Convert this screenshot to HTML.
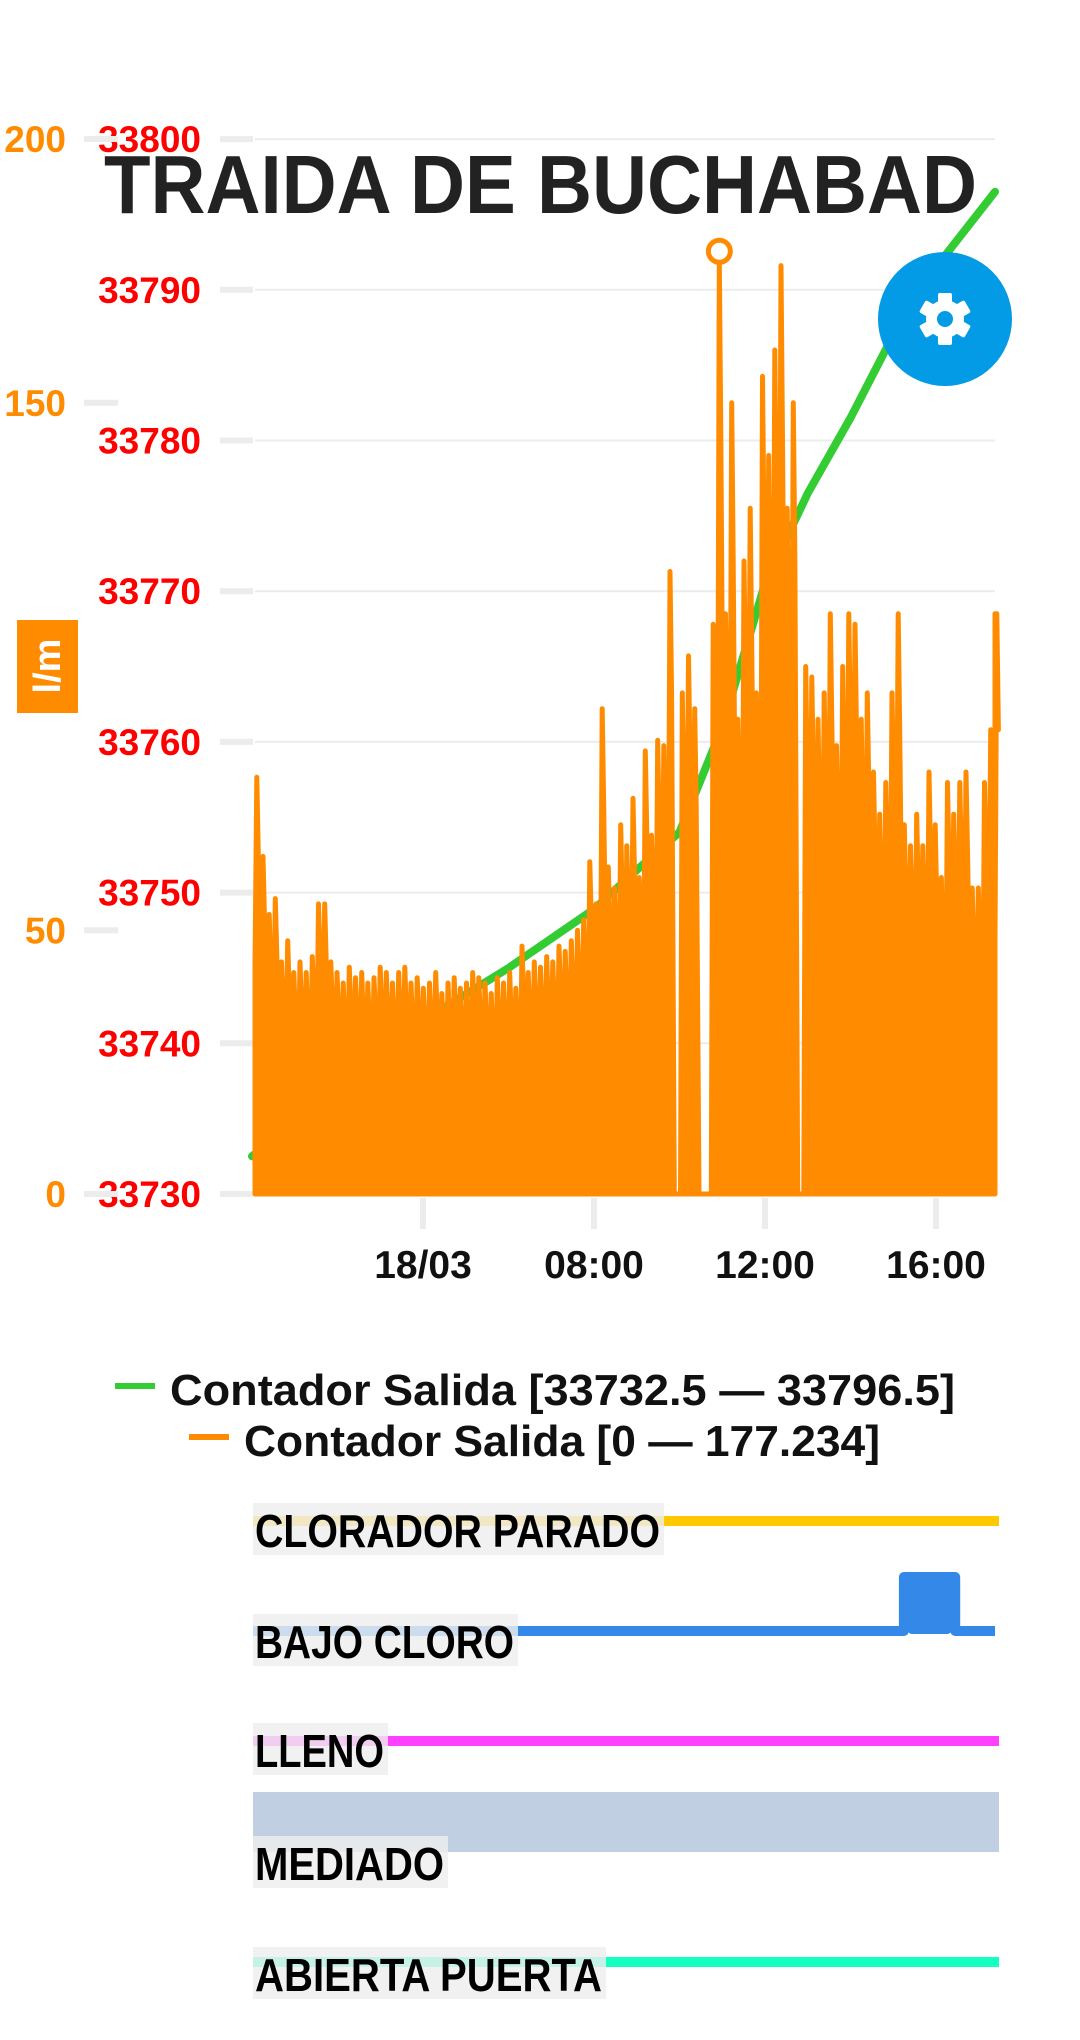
<!DOCTYPE html>
<html><head><meta charset="utf-8">
<style>
html,body{margin:0;padding:0;background:#fff;}
svg{display:block;font-family:"Liberation Sans",sans-serif;}
</style></head>
<body>
<svg id="chart" width="1080" height="2040" viewBox="0 0 1080 2040" xmlns="http://www.w3.org/2000/svg">
<g id="grid"></g>
<g id="axes"></g>
<g id="series"></g>
<text x="104" y="213" font-size="83" font-weight="bold" fill="#222" textLength="873" lengthAdjust="spacingAndGlyphs">TRAIDA DE BUCHABAD</text>
<g>
<circle cx="945" cy="319" r="67" fill="#039be5"/>
<g fill="#fff" transform="translate(945,319)">
<circle r="19"/>
<rect x="-7" y="-26" width="14" height="52" rx="2"/>
<rect x="-7" y="-26" width="14" height="52" rx="2" transform="rotate(60)"/>
<rect x="-7" y="-26" width="14" height="52" rx="2" transform="rotate(120)"/>
</g>
<circle cx="945" cy="319" r="8" fill="#039be5"/>
</g>
<g>
<rect x="17" y="620" width="61" height="93" fill="#ff8c00"/>
<text x="48" y="666" transform="rotate(-90 48 666)" text-anchor="middle" dominant-baseline="central" font-size="38" font-weight="bold" fill="#fff">l/m</text>
</g>
<g>
<g>
<rect x="115" y="1383" width="40" height="6" fill="#33cc33"/>
<text x="170" y="1405" font-size="44" font-weight="bold" fill="#111" textLength="785" lengthAdjust="spacingAndGlyphs">Contador Salida [33732.5 — 33796.5]</text>
</g>
<g>
<rect x="189" y="1434" width="40" height="6" fill="#ff8c00"/>
<text x="244" y="1456" font-size="44" font-weight="bold" fill="#111" textLength="636" lengthAdjust="spacingAndGlyphs">Contador Salida [0 — 177.234]</text>
</g>
</g>
<g id="status"></g>
</svg>
<script>
const NS="http://www.w3.org/2000/svg";
const xTickHours=[4,8,12,16];
const xTickLabels=["18/03","08:00","12:00","16:00"];
const redTicks=[33730,33740,33750,33760,33770,33780,33790,33800];
const orangeTicks=[0,50,150,200];
const greenHours=[0,2,4,6,8,9,10,11,12,13,14,15,16,17.38];
const greenValues=[33732.5,33737,33741.5,33745,33748.9,33751.5,33754,33761,33770.5,33776.5,33781.5,33787,33791.5,33796.5];
const orangeValues=[79,64,53,56,44,48,
42,44,42,45,55,55,44,42,40,43,41,42,40,41,43,42,40,42,43,40,
41,39,40,42,38,40,41,39,40,42,41,40,38,41,40,42,39,47,
42,44,43,45,44,47,46,48,50,52,
63,55,92,62,58,70,66,75,60,84,68,86,85,118,
0,95,102,92,0,0,108,177.2,110,150,90,120,130,95,155,140,160,176,130,150,0,100,98,90,95,110,85,100,110,108,90,95,80,72,78,95,110,70,66,72,66,80,70,60,78,72,78,80,58,58,78,88,110];
const orangeStartHour=0.07, orangeEndHour=17.38;
const bajoHours=[0,15.25,15.25,16.45,16.45,17.38];
const bajoStates=[0,0,1,1,0,0];

const X0=255,X1=995;
function xs(h){return 423+(h-4)*42.75;}
function yRed(c){return 1194-(c-33730)*15.07;}
function yOr(v){return 1194-v*5.275;}
function mk(tag,attrs,parent){const e=document.createElementNS(NS,tag);for(const k in attrs)e.setAttribute(k,attrs[k]);parent.appendChild(e);return e;}

const grid=document.getElementById('grid'),axes=document.getElementById('axes'),series=document.getElementById('series'),status=document.getElementById('status');
redTicks.forEach(t=>{
  const y=yRed(t);
  const g=mk('line',{x1:X0,x2:X1,y1:y,y2:y,stroke:'#ececec','stroke-width':2},grid);
  
  
  const d=mk('line',{x1:220,x2:253,y1:y,y2:y,stroke:'#ececec','stroke-width':6},axes);
  
  
  const tx=mk('text',{x:201,y:y+13,'text-anchor':'end','font-size':37,'font-weight':'bold',fill:'#ff0000'},axes);
  tx.textContent=t;
  
  
});
orangeTicks.forEach(t=>{
  const y=yOr(t);
  const d=mk('line',{x1:84,x2:118,y1:y,y2:y,stroke:'#ececec','stroke-width':6},axes);
  
  
  const tx=mk('text',{x:66,y:y+13,'text-anchor':'end','font-size':37,'font-weight':'bold',fill:'#ff8c00'},axes);
  tx.textContent=t;
  
  
});
xTickHours.forEach((h,i)=>{
  const x=xs(h);
  const d=mk('line',{x1:x,x2:x,y1:1198,y2:1229,stroke:'#ececec','stroke-width':6},axes);
  
  
  const tx=mk('text',{x:x,y:1278,'text-anchor':'middle','font-size':39,'font-weight':'bold',fill:'#111'},axes);
  tx.textContent=xTickLabels[i];
  
  
});
// green line (under orange)
const gp=greenHours.map((h,i)=>xs(h).toFixed(1)+','+yRed(greenValues[i]).toFixed(1)).join(' ');
const gl=mk('polyline',{points:gp,fill:'none',stroke:'#33cc33','stroke-width':8,'stroke-linejoin':'round','stroke-linecap':'round'},series);


// orange spikes
const n=orangeValues.length, step=(orangeEndHour-orangeStartHour)/(n-1);
let pts=[];let maxI=0;
orangeValues.forEach((v,i)=>{
  const h=orangeStartHour+i*step;
  const prev=i>0?orangeValues[i-1]:v;
  const trough=Math.min(v,prev)>0?Math.min(v,prev)*0.55:0;
  pts.push(xs(h).toFixed(1)+','+yOr(trough).toFixed(1));
  pts.push(xs(h+step*0.3).toFixed(1)+','+yOr(v).toFixed(1));
  pts.push(xs(h+step*0.55).toFixed(1)+','+yOr(v*0.8).toFixed(1));
  if(v>orangeValues[maxI])maxI=i;
});
pts.push(xs(orangeEndHour).toFixed(1)+','+yOr(orangeValues[n-1]).toFixed(1));
pts.push(xs(orangeEndHour).toFixed(1)+','+yOr(0).toFixed(1));
pts.push(xs(orangeStartHour).toFixed(1)+','+yOr(0).toFixed(1));
const ol=mk('polygon',{points:pts.join(' '),fill:'#ff8c00',stroke:'#ff8c00','stroke-width':5,'stroke-linejoin':'round'},series);


const mh=orangeStartHour+(maxI+0.3)*step;
const mc=mk('circle',{cx:xs(mh),cy:yOr(orangeValues[maxI])-8,r:11,fill:'#fff',stroke:'#ff8c00','stroke-width':5},series);



// status rows
const rows=[
 {name:'clorador-parado',label:'CLORADOR PARADO',color:'#ffc800',y:1521,box:[1503,411]},
 {name:'bajo-cloro',label:'BAJO CLORO',color:'#3388e8',y:1631,box:[1614,265]},
 {name:'lleno',label:'LLENO',color:'#ff40ff',y:1741,box:[1723,135]},
 {name:'mediado',label:'MEDIADO',color:'#c0cfe2',y:null,box:[1836,195]},
 {name:'abierta-puerta',label:'ABIERTA PUERTA',color:'#14ffc0',y:1962,box:[1947,353]}
];
rows.forEach(r=>{
  const g=mk('g',{},status);
  
  
  if(r.name==='mediado'){
    mk('rect',{x:253,y:1792,width:746,height:60,fill:r.color},g);
  }else if(r.name==='bajo-cloro'){
    const p=bajoHours.map((h,i)=>Math.max(253,xs(h)).toFixed(1)+','+(bajoStates[i]?1577:r.y)).join(' ');
    mk('polyline',{points:p,fill:'none',stroke:r.color,'stroke-width':10,'stroke-linejoin':'round'},g);
    mk('rect',{x:xs(15.25)+4,y:1574,width:xs(16.45)-xs(15.25)-8,height:60,rx:4,fill:r.color},g);
  }else{
    mk('line',{x1:253,x2:999,y1:r.y,y2:r.y,stroke:r.color,'stroke-width':10},g);
  }
  mk('rect',{x:253,y:r.box[0],width:r.box[1],height:52,fill:'#eeeeee','fill-opacity':0.82},g);
  const t=mk('text',{x:255,y:r.box[0]+44,'font-size':46,'font-weight':'bold',fill:'#000',textLength:r.box[1]-6,lengthAdjust:'spacingAndGlyphs'},g);
  t.textContent=r.label;
  
  
});
</script>
</body></html>
